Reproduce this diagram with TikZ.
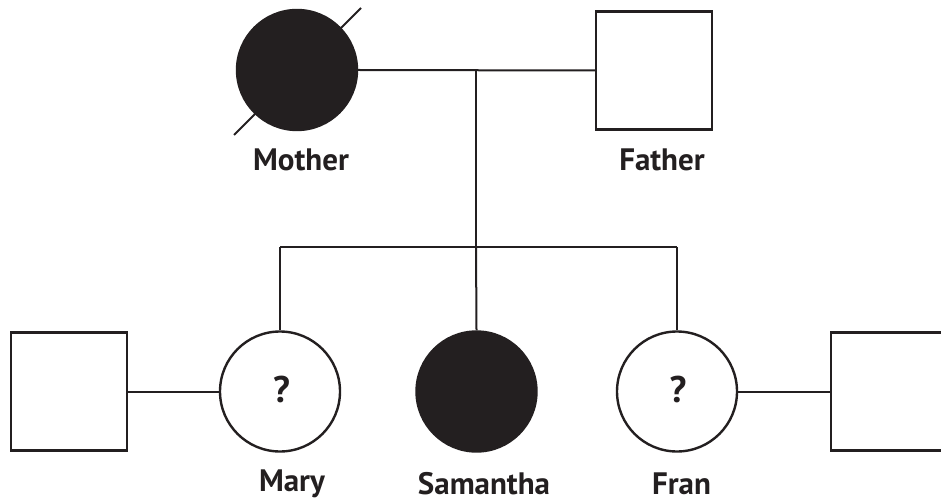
\documentclass[tikz,border=0pt]{standalone}
\usepackage{fontspec}
\setmainfont{PT Sans}
\definecolor{ink}{HTML}{231F20}
\begin{document}
\begin{tikzpicture}[x=1pt,y=-1pt,
  line/.style={draw=ink,line width=2pt},
  female/.style={circle,draw=ink,line width=2.4pt,minimum size=120pt,inner sep=0pt,fill=white},
  affected/.style={female,fill=ink},
  male/.style={rectangle,draw=ink,line width=2.4pt,minimum width=116pt,minimum height=118pt,inner sep=0pt,fill=white},
  lbl/.style={font=\bfseries\fontsize{31}{34}\selectfont,text=ink,inner sep=0pt},
  qmark/.style={font=\bfseries\fontsize{37}{40}\selectfont,text=ink,inner sep=0pt}]
\useasboundingbox (0,0) rectangle (941,502);

% deceased mark behind the mother's symbol
\coordinate (slashA) at (234,135);
\coordinate (slashB) at (361,8);
\draw[ink,line width=2pt] (slashA) -- (slashB);

% parents
\node[affected] (mother) at (297,70) {};
\node[male] (father) at (654,70.5) {};

% mating line and descent line
\coordinate (mid) at (476,70);
\coordinate (sib) at (476,247);
\draw[line] (mother.east) -- (father.west);
\draw[line] (mid) -- (sib);

% children
\node[female] (mary) at (280,391.5) {};
\node[affected] (samantha) at (476.5,391.5) {};
\node[female] (fran) at (677,391.5) {};
\coordinate (sibL) at (280,247);
\coordinate (sibR) at (677,247);
\draw[line] (sibL) -- (sibR);
\draw[line] (sibL) -- (mary.north);
\draw[line] (sib) -- (samantha.north);
\draw[line] (sibR) -- (fran.north);

% spouses
\node[male] (maryspouse) at (69,391.5) {};
\node[male] (franspouse) at (889,391.5) {};
\draw[line] (maryspouse.east) -- (mary.west);
\draw[line] (fran.east) -- (franspouse.west);

% question marks
\node[qmark] (qm) at (281.5,389) {?};
\node[qmark] (qf) at (678,389) {?};

% labels
\node[lbl] (lmother) at (301,160) {Mother};
\node[lbl] (lfather) at (662,160) {Father};
\node[lbl] (lmary) at (292,484) {Mary};
\node[lbl] (lsam) at (484,484) {Samantha};
\node[lbl] (lfran) at (681.5,484) {Fran};
\end{tikzpicture}
\end{document}
